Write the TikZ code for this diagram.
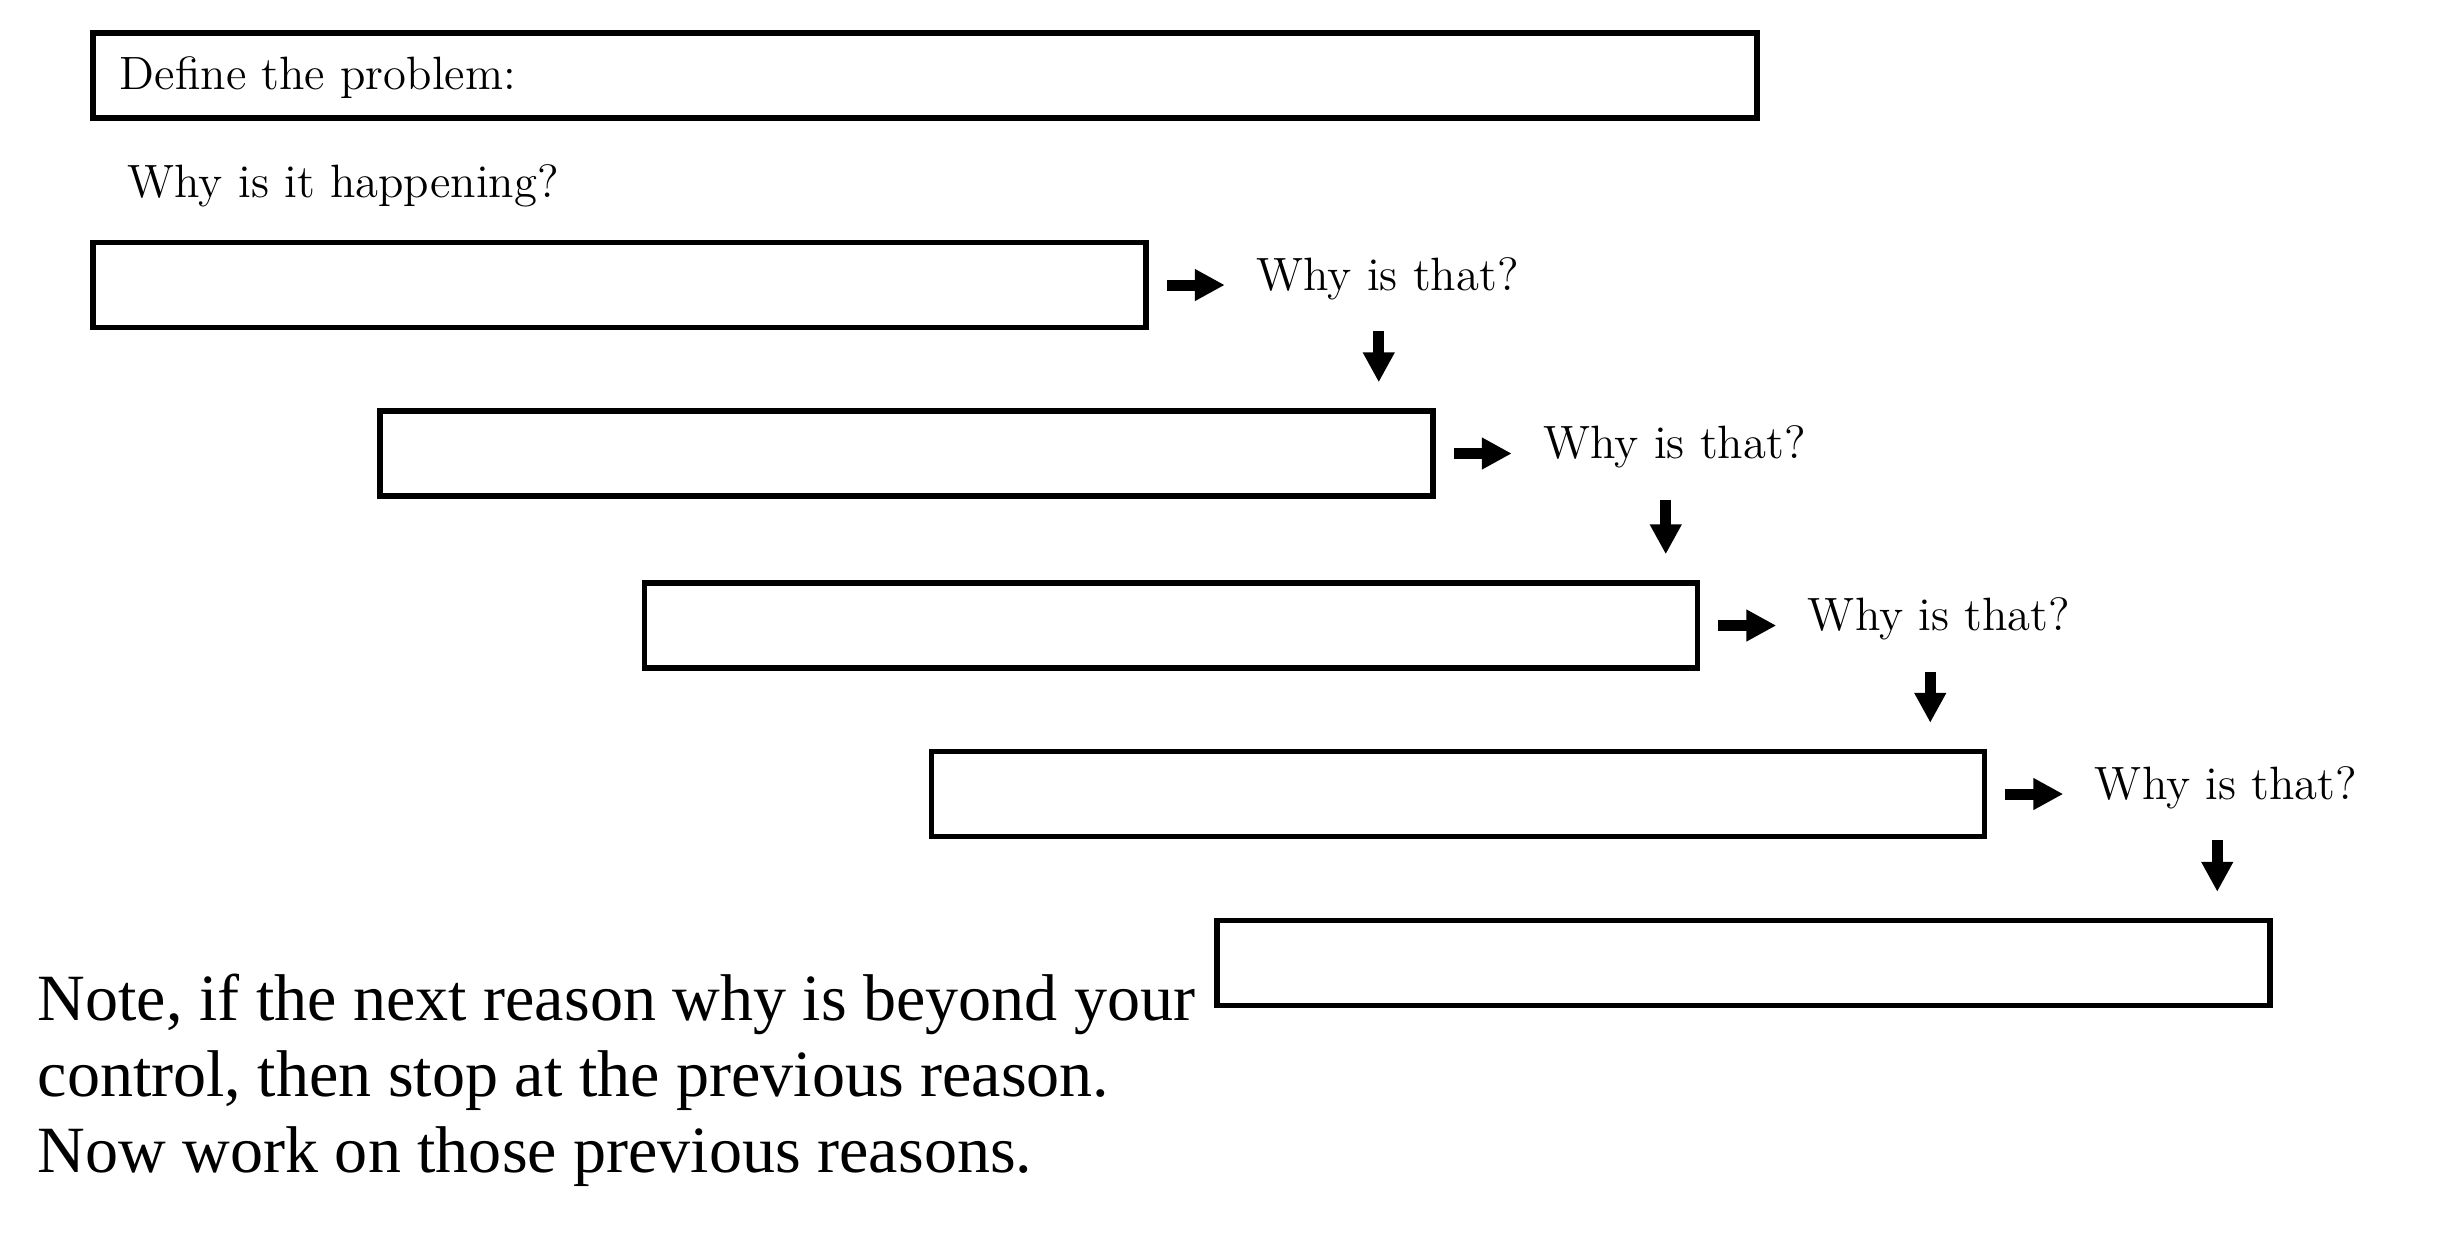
\documentclass[tikz,border=0pt]{standalone}
\usepackage{fontspec}
\newfontfamily\notefont{Liberation Serif}
\usetikzlibrary{arrows.meta,positioning}

\begin{document}
\begin{tikzpicture}[
    whybox/.style={draw, line width=0.055cm, minimum width=10.53cm, minimum height=0.85cm, inner sep=0pt},
    whytext/.style={inner sep=0pt, font=\fontsize{13.3}{16}\selectfont},
    fatarrow/.style={line width=0.11cm, -{Triangle[width=0.30cm,length=0.30cm]}},
    ]
    \useasboundingbox (0,0) rectangle (24.42,-12.46);
    % problem
    \node[whybox, minimum width=16.64cm] (prob) at (9.25,-0.755) {};
    \node[whytext, anchor=base west] (probtext) at ([xshift=0.29cm,yshift=-0.135cm]prob.west) {Define the problem:};
    \node[whytext, anchor=base west] (happen) at (1.27,-1.97) {Why is it happening?};
    % reasons
    \node[whybox] (r1) at (6.195,-2.85) {};
    \node[whybox] (r2) at (9.065,-4.535) {};
    \node[whybox] (r3) at (11.71,-6.255) {};
    \node[whybox] (r4) at (14.58,-7.94) {};
    \node[whybox] (r5) at (17.435,-9.63) {};
    \node[whytext, base right=1.07cm of r1.east, yshift=-0.05cm] (q1) {Why is that?};
    \node[whytext, base right=1.07cm of r2.east, yshift=-0.05cm] (q2) {Why is that?};
    \node[whytext, base right=1.07cm of r3.east, yshift=-0.05cm] (q3) {Why is that?};
    \node[whytext, base right=1.07cm of r4.east, yshift=-0.05cm] (q4) {Why is that?};
    %
    \draw[fatarrow, shorten <=0.18cm, shorten >=0.31cm] (r1.east) -- (r1.east -| q1.west);
    \draw[fatarrow, shorten <=0.18cm, shorten >=0.31cm] (r2.east) -- (r2.east -| q2.west);
    \draw[fatarrow, shorten <=0.18cm, shorten >=0.31cm] (r3.east) -- (r3.east -| q3.west);
    \draw[fatarrow, shorten <=0.18cm, shorten >=0.31cm] (r4.east) -- (r4.east -| q4.west);
    %
    \coordinate (d1) at ([xshift=2.3cm]r1.south east);
    \coordinate (d2) at ([xshift=2.3cm]r2.south east);
    \coordinate (d3) at ([xshift=2.3cm]r3.south east);
    \coordinate (d4) at ([xshift=2.3cm]r4.south east);
    \draw[fatarrow, shorten <=0.01cm, shorten >=0.26cm] (d1) -- (d1 |- r2.north);
    \draw[fatarrow, shorten <=0.01cm, shorten >=0.26cm] (d2) -- (d2 |- r3.north);
    \draw[fatarrow, shorten <=0.01cm, shorten >=0.26cm] (d3) -- (d3 |- r4.north);
    \draw[fatarrow, shorten <=0.01cm, shorten >=0.26cm] (d4) -- (d4 |- r5.north);
    % note (base is the last line)
    \node[anchor=base west, inner sep=0pt, align=left, font=\notefont\fontsize{18.8}{21.6}\selectfont] (note) at (0.37,-11.72)
      {Note, if the next reason why is beyond your\\control, then stop at the previous reason.\\Now work on those previous reasons.};
\end{tikzpicture}
\end{document}
